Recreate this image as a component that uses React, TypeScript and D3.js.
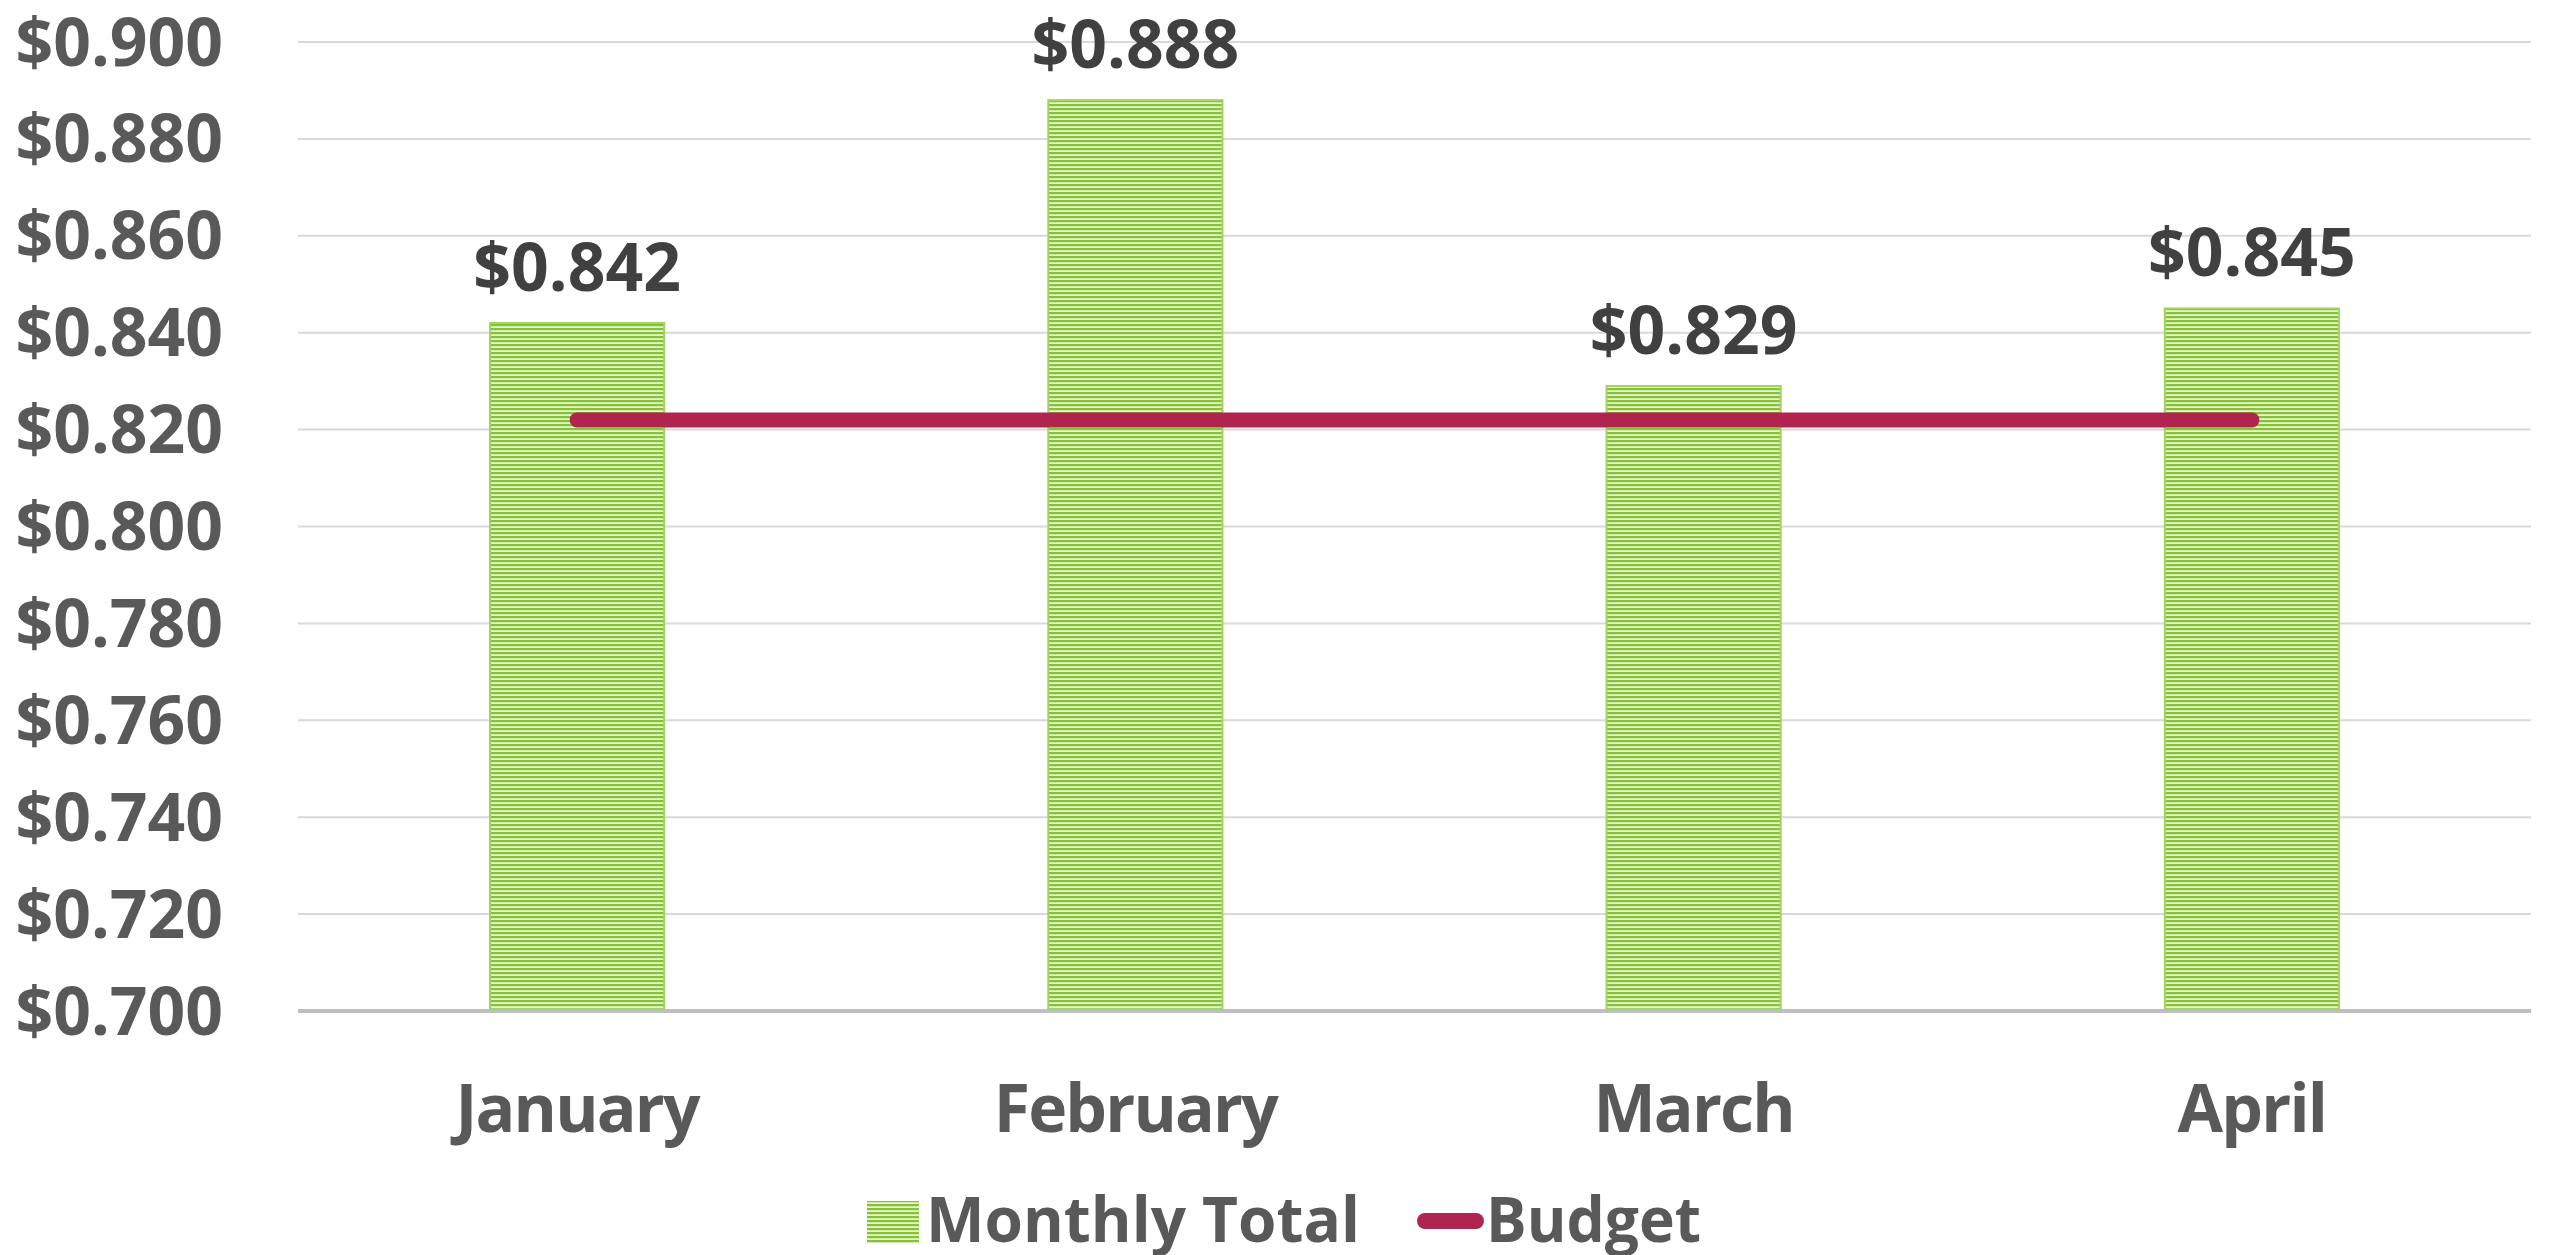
import React, { useEffect } from "react";
import * as d3 from "d3";

const categories = ["January", "February", "March", "April"];
const monthlyTotal = [0.842, 0.888, 0.829, 0.845];
const budget = [0.822, 0.822, 0.822, 0.822];
const yTicks = [0.7, 0.72, 0.74, 0.76, 0.78, 0.8, 0.82, 0.84, 0.86, 0.88, 0.9];
const seriesNames = ["Monthly Total", "Budget"];

const W = 2552;
const H = 1255;
const FONT = "'Open Sans', 'Noto Sans', sans-serif";
const FS = 66;

export default function App() {
  useEffect(() => {
    document.body.style.margin = "0";
  }, []);

  const left = 298;
  const right = 2531;
  const top = 42;
  const bottom = 1011;

  const x = d3.scaleBand<string>().domain(categories).range([left, right]).paddingInner(0.688).paddingOuter(0.344);
  const y = d3.scaleLinear().domain([0.7, 0.9]).range([bottom, top]);
  const fmt = (v: number) => "$" + d3.format(".3f")(v);

  const center = (c: string) => (x(c) as number) + x.bandwidth() / 2;
  const line = d3
    .line<number>()
    .x((_, i) => center(categories[i]))
    .y((d) => y(d));

  const capHalf = FS * 0.714 / 2;

  return (
    <svg width={W} height={H} style={{ display: "block", background: "#fff" }} fontFamily={FONT}>
      <defs>
        <pattern id="stripes" patternUnits="userSpaceOnUse" width={8} height={4}>
          <rect x={0} y={0} width={8} height={4} fill="#E6F3D3" />
          <rect x={0} y={0} width={8} height={2.2} fill="#86C232" />
        </pattern>
      </defs>

      {yTicks.map((t) => (
        <line key={"g" + t} x1={left} x2={right} y1={y(t)} y2={y(t)} stroke={t === 0.7 ? "#BFBFBF" : "#D9D9D9"} strokeWidth={t === 0.7 ? 4 : 2} />
      ))}

      {yTicks.map((t) => (
        <text key={"yl" + t} x={223} y={y(t) + capHalf} textAnchor="end" fontSize={FS} fontWeight={700} fill="#595959">
          {fmt(t)}
        </text>
      ))}

      {categories.map((c, i) => (
        <g key={c}>
          <rect
            x={x(c)}
            y={y(monthlyTotal[i])}
            width={x.bandwidth()}
            height={y(0.7) - y(monthlyTotal[i]) - 2}
            fill="url(#stripes)"
            stroke="#A3D463"
            strokeWidth={2}
          />
          <text x={center(c)} y={y(monthlyTotal[i]) - 32} textAnchor="middle" fontSize={FS} fontWeight={700} fill="#404040">
            {fmt(monthlyTotal[i])}
          </text>
          <text x={center(c)} y={1132} textAnchor="middle" fontSize={FS} fontWeight={700} fill="#595959" letterSpacing={-1.8}>
            {c}
          </text>
        </g>
      ))}

      <path d={line(budget) || ""} fill="none" stroke="#B0254F" strokeWidth={15} strokeLinecap="round" />

      <g>
        <rect x={867} y={1201} width={52} height={42} fill="url(#stripes)" />
        <text x={926} y={1242} fontSize={FS * 0.96} fontWeight={700} fill="#595959" textLength={434} lengthAdjust="spacingAndGlyphs">
          {seriesNames[0]}
        </text>
        <line x1={1425} x2={1476} y1={1221} y2={1221} stroke="#B0254F" strokeWidth={16} strokeLinecap="round" />
        <text x={1486} y={1242} fontSize={FS * 0.96} fontWeight={700} fill="#595959" textLength={215} lengthAdjust="spacingAndGlyphs">
          {seriesNames[1]}
        </text>
      </g>
    </svg>
  );
}
